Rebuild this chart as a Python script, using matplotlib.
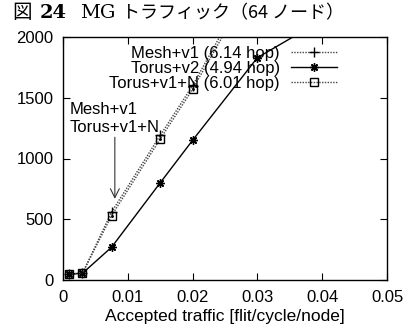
import matplotlib
matplotlib.use("Agg")
import matplotlib.pyplot as plt

# accepted traffic [flit/cycle/node] vs latency
mesh_x = [0.001, 0.003, 0.0075, 0.015, 0.02, 0.025]
mesh_y = [50, 55, 560, 1190, 1600, 2080]

torus2_x = [0.001, 0.003, 0.0075, 0.015, 0.02, 0.03, 0.04]
torus2_y = [50, 55, 270, 800, 1150, 1830, 2140]

torusn_x = [0.001, 0.003, 0.0075, 0.015, 0.02, 0.025]
torusn_y = [50, 55, 530, 1160, 1570, 2040]

labels = ["Mesh+v1 (6.14 hop)", "Torus+v2 (4.94 hop)", "Torus+v1+N (6.01 hop)"]
xticks = [0, 0.01, 0.02, 0.03, 0.04, 0.05]
xticklabels = ["0", "0.01", "0.02", "0.03", "0.04", "0.05"]
yticks = [0, 500, 1000, 1500, 2000]

plt.rcParams['font.family'] = ['Liberation Sans', 'DejaVu Sans']
plt.rcParams['font.size'] = 12

fig = plt.figure(figsize=(4.11, 3.31), dpi=100)
ax = fig.add_axes([63 / 411, 1 - 280 / 331, 324 / 411, 243 / 331])

dot = (0, (1, 1))
ax.plot(mesh_x, mesh_y, color='#444444', linestyle=dot, lw=1,
        marker='+', ms=7, mew=1, mec='black', label=labels[0])
ax.plot(torus2_x, torus2_y, color='black', linestyle='-', lw=1,
        marker=(8, 2, 0), ms=6, mew=1, label=labels[1])
ax.plot(torusn_x, torusn_y, color='#444444', linestyle=dot, lw=1,
        marker='s', ms=5.5, mew=1, mec='black', mfc='none', label=labels[2])
ax.plot(torusn_x, torusn_y, linestyle='none', marker='.', ms=2, color='black')

ax.set_xlim(0, 0.05)
ax.set_ylim(0, 2000)
ax.set_xticks(xticks)
ax.set_xticklabels(xticklabels)
ax.set_yticks(yticks)
ax.tick_params(direction='in', length=5, width=0.8, top=True, right=True, pad=7)
for s in ax.spines.values():
    s.set_linewidth(1)
ax.set_xlabel("Accepted traffic [flit/cycle/node]", fontsize=12.5, labelpad=3)

ax.legend(loc='upper right', frameon=False, markerfirst=False, numpoints=1,
          handlelength=2.75, handletextpad=0.66, labelspacing=0.0,
          borderaxespad=0, bbox_to_anchor=(0.866, 0.99))

ax.text(0.00108, 1405, "Mesh+v1", va='center', ha='left')
ax.text(0.00108, 1256, "Torus+v1+N", va='center', ha='left')
ax.annotate('', xy=(0.0080, 645), xytext=(0.0080, 1198),
            arrowprops=dict(arrowstyle='->', lw=0.8, color='#333333',
                            mutation_scale=16))

ty = 1 - 13 / 331
fig.text(12 / 411, ty, "図", family=['Noto Sans CJK JP'], fontsize=14, va='center')
fig.text(40 / 411, ty, "24", family=['DejaVu Serif'], fontweight='bold', fontsize=14, va='center')
fig.text(80 / 411, ty, "MG", family=['DejaVu Serif'], fontsize=14, va='center')
fig.text(122 / 411, ty, "トラフィック（64 ノード）",
         family=['Noto Sans CJK JP'], fontsize=13, va='center')

fig.savefig("out.png", dpi=100)
